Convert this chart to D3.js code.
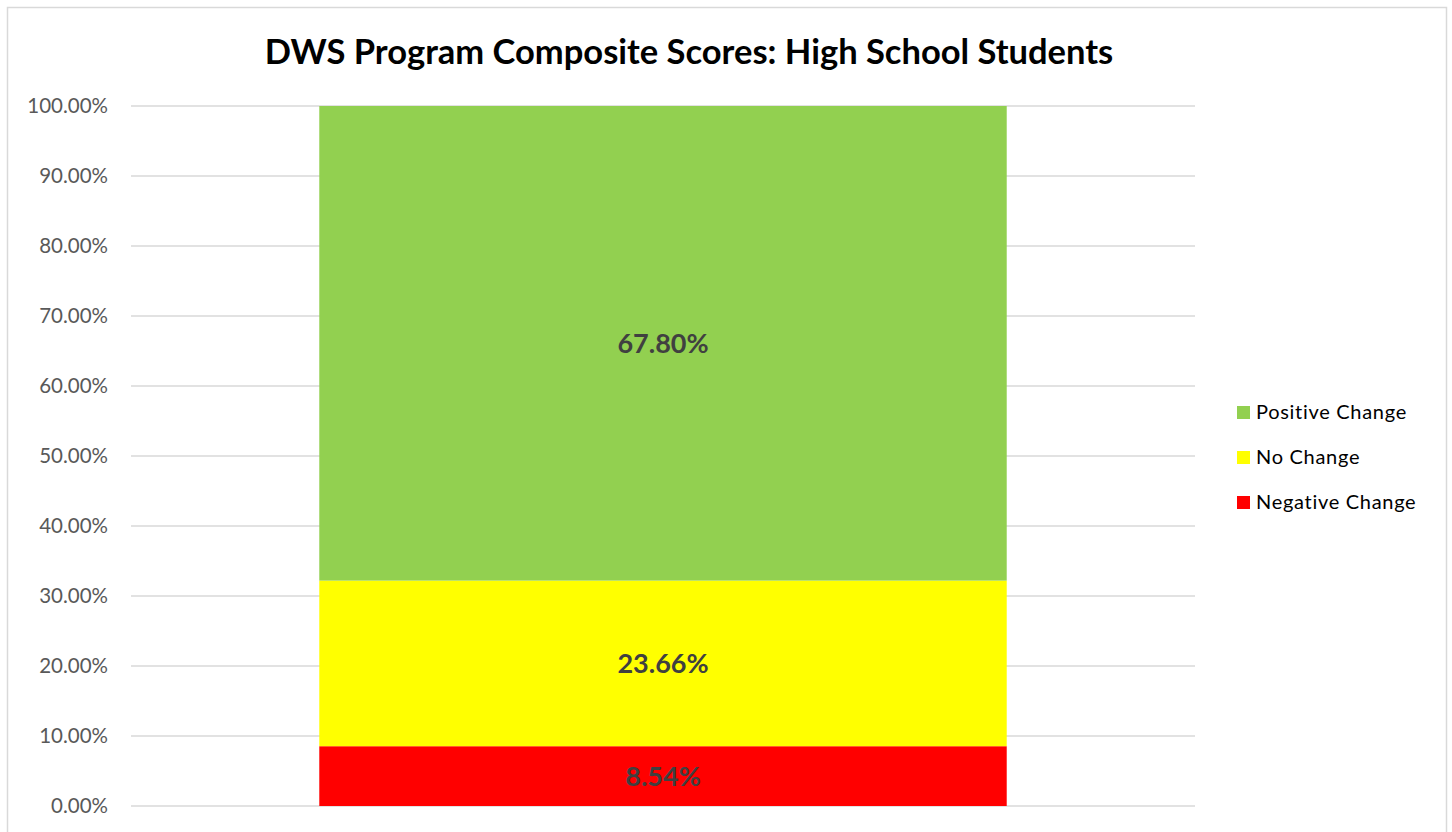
<!DOCTYPE html>
<html>
<head>
<meta charset="utf-8">
<script src="https://cdn.jsdelivr.net/npm/d3@7"></script>
<style>
  body { margin: 0; background: #fff; }
  svg { display: block; font-family: Lato, "Open Sans", sans-serif; }
</style>
</head>
<body>
<svg id="chart" width="1452" height="832"></svg>
<script>
// data
const chartTitle = "DWS Program Composite Scores: High School Students";
const seriesNames = ["Negative Change", "No Change", "Positive Change"];
const seriesValues = [8.54, 23.66, 67.80];
const seriesColors = ["#ff0000", "#ffff00", "#92d050"];
const tickValues = [0, 10, 20, 30, 40, 50, 60, 70, 80, 90, 100];

const width = 1452, height = 832;
const margin = { top: 106, left: 131, right: 257, bottom: 26 };

const svg = d3.select("#chart");

// outer border
svg.append("rect")
    .attr("x", 7.5).attr("y", 7.5)
    .attr("width", 1439).attr("height", 840)
    .attr("fill", "white")
    .attr("stroke", "#d9d9d9")
    .attr("stroke-width", 1.5);

svg.append("text")
    .attr("x", 689).attr("y", 64)
    .attr("text-anchor", "middle")
    .attr("font-size", 34.5)
    .attr("font-weight", "bold")
    .attr("fill", "#000")
    .text(chartTitle);

const y = d3.scaleLinear()
    .domain([0, 100])
    .range([height - margin.bottom, margin.top]);

const x = d3.scaleBand()
    .domain(["HS"])
    .range([margin.left, width - margin.right])
    .paddingInner(0.215).paddingOuter(0.215);

// gridlines
svg.append("g")
    .selectAll("line")
    .data(tickValues)
    .join("line")
      .attr("x1", margin.left)
      .attr("x2", width - margin.right)
      .attr("y1", d => y(d))
      .attr("y2", d => y(d))
      .attr("stroke", "#d9d9d9")
      .attr("stroke-width", 1.5);

// y axis labels
const yAxis = svg.append("g")
    .attr("transform", `translate(${margin.left - 23},0)`)
    .call(d3.axisLeft(y).tickValues(tickValues).tickFormat(d => d.toFixed(2) + "%").tickSize(0).tickPadding(0));
yAxis.select(".domain").remove();
yAxis.selectAll("text")
    .attr("font-family", "Lato, 'Open Sans', sans-serif")
    .attr("font-size", 20.5)
    .attr("fill", "#595959");

// stacked segments
let acc = 0;
const segs = seriesValues.map((v, i) => {
  const s = { name: seriesNames[i], value: v, y0: acc, y1: acc + v, color: seriesColors[i] };
  acc += v;
  return s;
});

svg.append("g")
    .selectAll("rect")
    .data(segs)
    .join("rect")
      .attr("x", x("HS"))
      .attr("width", x.bandwidth())
      .attr("y", d => y(d.y1))
      .attr("height", d => y(d.y0) - y(d.y1))
      .attr("fill", d => d.color);

svg.append("g")
    .selectAll("text")
    .data(segs)
    .join("text")
      .attr("x", x("HS") + x.bandwidth() / 2)
      .attr("y", d => y((d.y0 + d.y1) / 2))
      .attr("dy", "0.37em")
      .attr("text-anchor", "middle")
      .attr("font-size", 27)
      .attr("font-weight", "bold")
      .attr("fill", "#404040")
      .text(d => d.value.toFixed(2) + "%");

// legend, top to bottom reversed
const legend = svg.append("g")
    .selectAll("g")
    .data(segs.slice().reverse())
    .join("g")
      .attr("transform", (d, i) => `translate(1237,${412 + i * 45})`);

legend.append("rect")
    .attr("x", 0).attr("y", -6)
    .attr("width", 13).attr("height", 13)
    .attr("fill", d => d.color);

legend.append("text")
    .attr("x", 19)
    .attr("dy", "0.36em")
    .attr("font-size", 20)
    .attr("letter-spacing", 0.7)
    .attr("fill", "#000")
    .text(d => d.name);
</script>
</body>
</html>
